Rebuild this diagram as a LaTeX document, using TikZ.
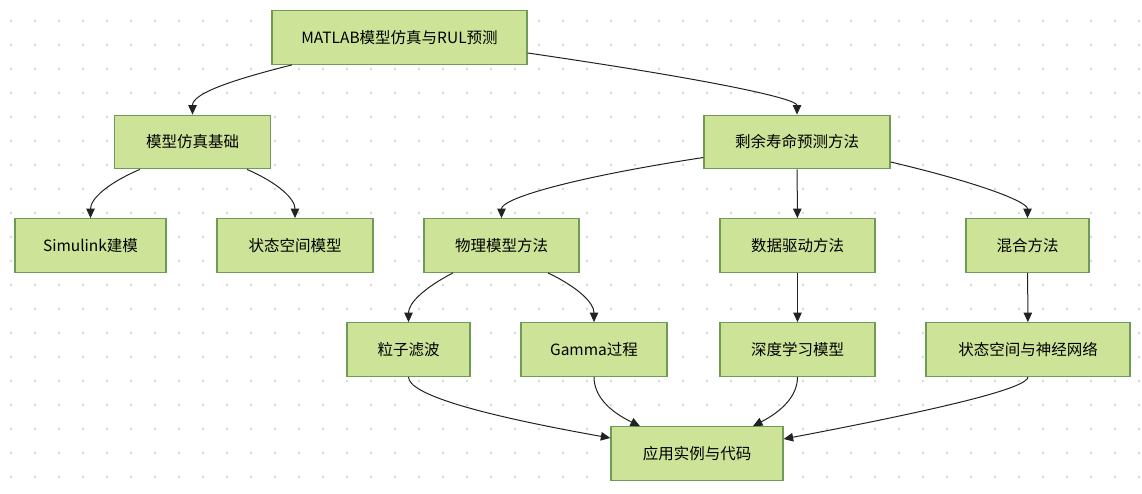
\documentclass[tikz,border=0pt]{standalone}
\usepackage{fontspec}
\setmainfont{Noto Sans CJK SC}
\usepackage{tikz}
\usetikzlibrary{arrows.meta}

\definecolor{boxfill}{HTML}{CDE498}
\definecolor{boxline}{HTML}{6E9B55}
\definecolor{linkc}{HTML}{222222}
\definecolor{dotc}{HTML}{D6D6D6}

\begin{document}
\begin{tikzpicture}[x=1pt, y=-1pt,
    box/.style={draw=boxline, line width=1.3pt, fill=boxfill, text=black,
        minimum height=53.5pt, inner sep=0pt, font=\fontsize{15.5}{18}\selectfont},
    link/.style={draw=linkc, line width=1pt, -{Triangle[length=9.5pt, width=8.5pt]}}]
    \useasboundingbox (0, 0) rectangle (1142, 494);
    % dotted background
    \foreach \i in {0,...,47}
        \foreach \j in {0,...,19}
            \fill[dotc] (11+24*\i, 21+24*\j) circle (1.3pt);

    \node[box, minimum width=255pt] (root) at (399.5, 37.5) {MATLAB模型仿真与RUL预测};
    \node[box, minimum width=156pt] (base) at (192.5, 142) {模型仿真基础};
    \node[box, minimum width=186pt] (rul)  at (797, 142) {剩余寿命预测方法};
    \node[box, minimum width=151pt] (slk)  at (90.5, 245.5) {Simulink建模};
    \node[box, minimum width=156pt] (ssm)  at (295, 245.5) {状态空间模型};
    \node[box, minimum width=155pt] (phys) at (501.5, 245.5) {物理模型方法};
    \node[box, minimum width=155pt] (data) at (797.5, 245.5) {数据驱动方法};
    \node[box, minimum width=123pt] (hyb)  at (1027.5, 245.5) {混合方法};
    \node[box, minimum width=123pt] (pf)   at (408.5, 349.5) {粒子滤波};
    \node[box, minimum width=146pt] (gam)  at (594, 349.5) {Gamma过程};
    \node[box, minimum width=155pt] (dl)   at (797.5, 349.5) {深度学习模型};
    \node[box, minimum width=204pt] (ssnn) at (1028, 349.5) {状态空间与神经网络};
    \node[box, minimum width=172pt] (app)  at (697, 453.5) {应用实例与代码};

    \draw[link] ([xshift=-107.5pt]root.south) .. controls +(-68,17) and +(0,-20) .. (base.north);
    \draw[link] ([yshift=-15.5pt]root.east) .. controls +(185,27) and +(0,-16) .. (rul.north);
    \draw[link] ([xshift=-52.5pt]base.south) .. controls +(-33,14) and +(0,-19) .. (slk.north);
    \draw[link] ([xshift=54.5pt]base.south) .. controls +(32,14) and +(0,-19) .. (ssm.north);
    \draw[link] ([yshift=-15.5pt]rul.west) .. controls +(-137,21) and +(0,-19) .. (phys.north);
    \draw[link] (rul) -- (data);
    \draw[link] ([yshift=-20pt]rul.east) .. controls +(93,22) and +(0,-16) .. (hyb.north);
    \draw[link] ([xshift=-48.5pt]phys.south) .. controls +(-29,15) and +(0,-19) .. (pf.north);
    \draw[link] ([xshift=46.5pt]phys.south) .. controls +(31,15) and +(0,-19) .. (gam.north);
    \draw[link] (data) -- (dl);
    \draw[link] (hyb) -- (ssnn);
    \draw[link] (pf.south) .. controls +(0,17) and +(-135,-24) .. ([yshift=15.5pt]app.west);
    \draw[link] (gam.south) .. controls +(0,19) and +(-31,-15) .. ([xshift=-57pt]app.north);
    \draw[link] (dl.south) .. controls +(0,19) and +(29,-15) .. ([xshift=56pt]app.north);
    \draw[link] (ssnn.south) .. controls +(0,11) and +(163,-31) .. ([yshift=14.5pt]app.east);
\end{tikzpicture}
\end{document}
